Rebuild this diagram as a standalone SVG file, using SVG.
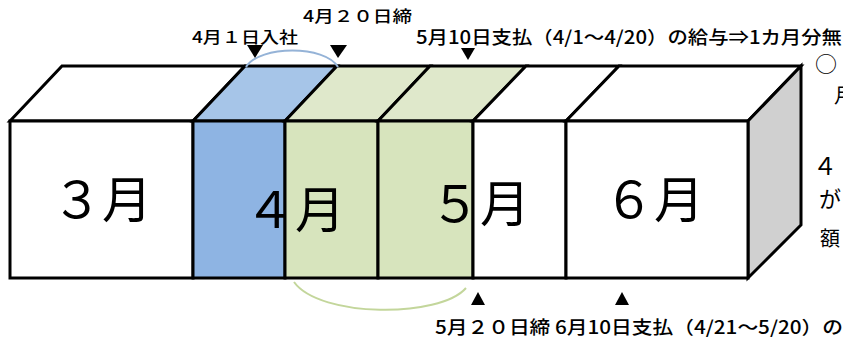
<svg xmlns="http://www.w3.org/2000/svg" width="843" height="340" viewBox="0 0 843 340">
<style>
.face{stroke:#000;stroke-width:3;stroke-linejoin:miter}
.white{fill:#fff}
.bluef{fill:#8EB4E3}
.bluet{fill:#A6C5E8}
.greenf{fill:#D7E4BD}
.greent{fill:#DFE8CB}
.side{fill:#D0D0D0}
.month{font-family:"Noto Sans CJK JP","Noto Sans",sans-serif;font-size:50px;fill:#000;text-anchor:middle}
.lbl{font-family:"Noto Sans CJK JP","Noto Sans",sans-serif;fill:#000}
.tri{fill:#000}
</style>
<rect width="843" height="340" fill="#fff"/>

<g id="box-mar">
<polygon class="face white" points="10,121 62,66 245,66 193,121"/>
<rect class="face white" x="10" y="121" width="183" height="157"/>
</g>
<g id="box-apr-a">
<polygon class="face bluet" points="193,121 245,66 337,66 285,121"/>
<rect class="face bluef" x="193" y="121" width="92" height="157"/>
</g>
<g id="box-apr-b">
<polygon class="face greent" points="285,121 337,66 430,66 378,121"/>
<rect class="face greenf" x="285" y="121" width="93" height="157"/>
</g>
<g id="box-may-a">
<polygon class="face greent" points="378,121 430,66 526,66 473,121"/>
<rect class="face greenf" x="378" y="121" width="95" height="157"/>
</g>
<g id="box-may-b">
<polygon class="face white" points="473,121 526,66 619,66 566,121"/>
<rect class="face white" x="473" y="121" width="93" height="157"/>
</g>
<g id="box-jun">
<polygon class="face white" points="566,121 619,66 801,66 748,121"/>
<polygon class="face side" points="748,121 801,66 801,225 748,278"/>
<rect class="face white" x="566" y="121" width="182" height="157"/>
</g>

<g id="month-labels">
<text class="month" x="102" y="218">３月</text>
<text class="month" x="295" y="228">４月</text>
<text class="month" x="480" y="222">５月</text>
<text class="month" x="654" y="218">６月</text>
</g>

<g id="connectors" fill="none" stroke-width="2">
<path d="M246,67 C260,45 325,45 338,67" stroke="#95B3D7"/>
<path d="M294,282 C320,318 440,318 466,288" stroke="#C3D69B"/>
</g>

<g id="markers">
<polygon class="tri" points="247,45 263,45 255,58"/>
<polygon class="tri" points="330,45 347,45 338,58"/>
<polygon class="tri" points="461,48 475,48 468,60"/>
<polygon class="tri" points="471,305 485,305 478,292"/>
<polygon class="tri" points="615,305 629,305 622,292"/>
</g>

<g id="annotations">
<text class="lbl" x="192" y="43" font-size="15.5" font-weight="500" textLength="106" lengthAdjust="spacingAndGlyphs">4月１日入社</text>
<text class="lbl" x="303" y="22" font-size="15.5" font-weight="500" textLength="109" lengthAdjust="spacingAndGlyphs">4月２０日締</text>
<text class="lbl" x="416" y="44" font-size="18" font-weight="500" textLength="426" lengthAdjust="spacingAndGlyphs">5月10日支払（4/1～4/20）の給与⇒1カ月分無</text>
<text class="lbl" x="435" y="334" font-size="18" font-weight="500" textLength="408" lengthAdjust="spacingAndGlyphs">5月２０日締 6月10日支払（4/21～5/20）の</text>
</g>

<g id="side-note" class="lbl">
<text x="815" y="72" font-size="22">○</text>
<text x="834" y="103" font-size="20">月</text>
<text x="813" y="175" font-size="24">４</text>
<text x="819" y="207" font-size="22">が</text>
<text x="820" y="246" font-size="20">額</text>
</g>
</svg>
